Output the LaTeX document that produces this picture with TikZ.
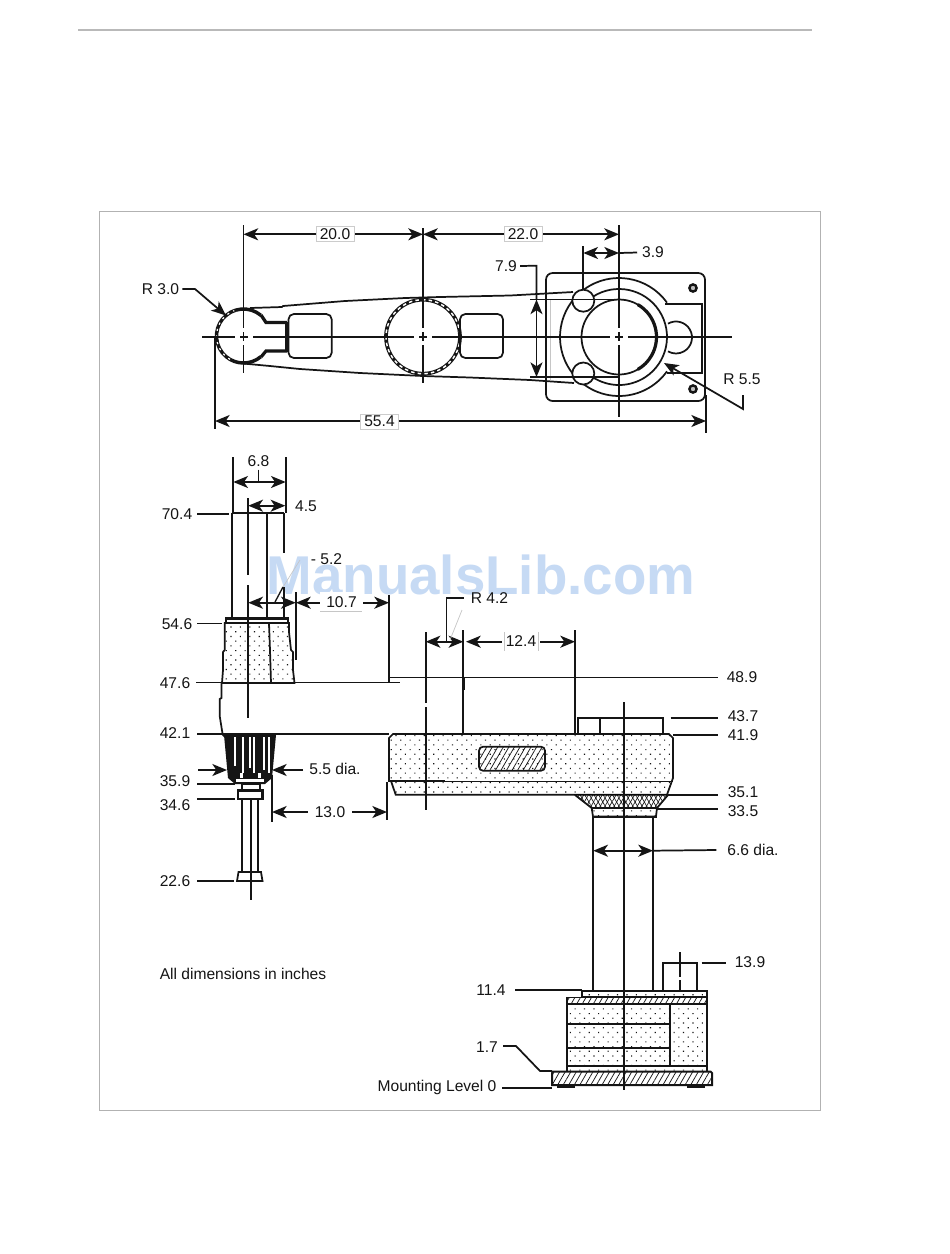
\documentclass[tikz,border=0pt]{standalone}
\usepackage{fontspec}
\setmainfont{Liberation Sans}
\usetikzlibrary{arrows.meta,patterns.meta}
\definecolor{ink}{HTML}{151515}
\definecolor{wm}{HTML}{C6DAF4}
\tikzset{
  ln/.style={draw=ink,line width=1.3pt},
  thinl/.style={draw=ink,line width=1pt},
  gr/.style={draw=gray!45,line width=.5pt},
  dimline/.style={ln,{Stealth[length=11pt,width=9pt,inset=3pt]}-{Stealth[length=11pt,width=9pt,inset=3pt]}},
  endtip/.style={ln,-{Stealth[length=11pt,width=9pt,inset=3pt]}},
  lab/.style={font=\fontsize{11.7pt}{12pt}\selectfont,text=ink,inner sep=0pt},
  boxlab/.style={lab,fill=white,draw=gray!40,line width=.4pt,inner xsep=3pt,inner ysep=1.5pt},
  whitelab/.style={lab,fill=white,inner xsep=5pt,inner ysep=3pt},
  dots/.style={pattern={Dots[distance=5pt,angle=45,radius=.6pt]},pattern color=ink},
  hatch/.style={pattern={Lines[angle=60,distance=3.6pt,line width=.55pt]},pattern color=ink},
  cross/.style={pattern={Lines[angle=60,distance=3pt,line width=.5pt]},pattern color=ink},
  cross2/.style={pattern={Lines[angle=120,distance=3pt,line width=.5pt]},pattern color=ink},
}
\begin{document}
\begin{tikzpicture}[x=0.75pt,y=-0.75pt]
\useasboundingbox (0,0) rectangle (950,1254);
\fill[white] (0,0) rectangle (950,1254);
% page furniture
\draw[draw=gray!55,line width=.8pt] (78,30) -- (812,30);
\draw[draw=gray!60,line width=.7pt] (99.5,211) rectangle (820.5,1110);
% watermark
\node[font=\bfseries\fontsize{41pt}{44pt}\selectfont,text=wm,inner sep=0pt] (wmark) at (481,575) {ManualsLib.com};

%% ===== TOP VIEW =====
\coordinate (p20a) at (243.5,234.3); \coordinate (p20b) at (423,234.3); \coordinate (p22b) at (619,234.3);
\coordinate (p55a) at (215,421); \coordinate (p55b) at (706,421);
% plate and rings
\draw[ln,rounded corners=5pt] (546,377) -- (546,273) -- (705,273) -- (705,401) -- (546,401) -- (546,377);
\draw[ln] (665,304) -- (702,304) -- (702,373) -- (667,373);
\draw[ln] (619,337) ++(-35.6:59) arc[start angle=-35.6,end angle=-324.4,radius=59];
\draw[ln] (676,337.5) ++(-120:16) arc[start angle=-120,end angle=120,radius=16];
\draw[ln] (619,337) ++(-123:48) arc[start angle=-123,end angle=123,radius=48];
\draw[ln] (619,337) circle[radius=37.5];
\draw[draw=ink,line width=2.4pt] (619,337) ++(-60:37.5) arc[start angle=-60,end angle=60,radius=37.5];
\draw[ln,fill=white] (583.3,300.7) circle[radius=11];
\draw[ln,fill=white] (583.3,373.5) circle[radius=11];
\draw[draw=ink,line width=1.8pt,fill=gray!50] (693,288) circle[radius=3.6];
\draw[draw=ink,line width=1.8pt,fill=gray!50] (693,389) circle[radius=3.6];
% arm outline
\draw[ln] (250,308) -- (282,307) -- (283,306) -- (345,301) -- (405,298) -- (440,297) -- (510,295.5) -- (573,292);
\draw[ln] (243,363.5) -- (270,366) -- (300,369) -- (360,373) -- (423,376) -- (470,377.5) -- (530,380) -- (574,383);
\draw[gr] (550,300) -- (550,380);
\draw[thinl] (530,299.3) -- (619,299.3);
\draw[thinl] (530,377) -- (619,377);
% left ball and neck
\draw[draw=ink,line width=2.6pt] (243.5,336) ++(-50:27) arc[start angle=-50,end angle=-310,radius=27];
\draw[draw=white,line width=.9pt,dash pattern=on 1.6pt off 3.4pt] (243.5,336) ++(120:27) arc[start angle=120,end angle=250,radius=27];
\draw[draw=ink,line width=2.4pt] (261,315) -- (266,322.5) -- (287,322.5);
\draw[draw=ink,line width=2.4pt] (261,357) -- (266,351) -- (287,351);
\fill[ink] (284.5,321.5) rectangle (289,352);
\draw[ln,rounded corners=4pt] (288.5,314) rectangle (331.7,358);
% middle ring
\draw[draw=ink,line width=2.8pt] (423,336.7) circle[radius=37];
\draw[draw=white,line width=1.1pt,dash pattern=on 2.6pt off 2.4pt] (423,336.7) circle[radius=37];
\draw[ln,rounded corners=4pt] (460,314) rectangle (503,358);
% centre lines
\draw[ln] (202,336.7) -- (732,336.7);
\draw[ln] (243.5,225) -- (243.5,373);
\draw[ln] (423,228) -- (423,383);
\draw[ln] (619,225) -- (619,417);
\foreach \cx in {243.5,423,619}{
  \fill[white] (\cx-9,335.5) rectangle (\cx-4,338);
  \fill[white] (\cx+4,335.5) rectangle (\cx+9,338);
  \fill[white] (\cx-1.2,328) rectangle (\cx+1.2,332);
  \fill[white] (\cx-1.2,341) rectangle (\cx+1.2,345);
}
% top dims
\draw[dimline] (p20a) -- (p20b);
\draw[dimline] (p20b) -- (p22b);
\node[boxlab] (d20) at (335,234) {20.0};
\node[boxlab] (d22) at (523,234) {22.0};
\node[lab] (d39) at (653,252.5) {3.9};
\draw[ln] (583.3,246) -- (583.3,290);
\coordinate (p39a) at (583.3,253); \coordinate (p39b) at (619,253);
\draw[dimline] (p39a) -- (p39b);
\draw[ln] (p39b) -- ([xshift=-3.5pt]d39.west);
\node[lab] (r30) at (160.5,289) {R 3.0};
\coordinate (r30t) at (226,315.5);
\draw[endtip] (r30.east) ++(3,0) -- (195,289) -- (r30t);
\node[lab] (d79) at (506,266) {7.9};
\coordinate (p79a) at (536.5,299.5); \coordinate (p79b) at (536.5,377);
\draw[ln] (d79.east) ++(3,0) -- (536.5,265.7) -- (536.5,299);
\draw[dimline] (p79a) -- (p79b);
\node[lab] (r55) at (742,379) {R 5.5};
\coordinate (r55t) at (664,363);
\draw[endtip] (743,395) -- (743,409) -- (r55t);
\draw[ln] (215,338) -- (215,429);
\draw[ln] (706,395) -- (706,433);
\draw[dimline] (p55a) -- (p55b);
\node[boxlab] (d55) at (379.5,421.5) {55.4};

%% ===== SIDE VIEW: quill =====
% column
\draw[ln] (231.7,513.3) -- (284.3,513.3);
\draw[ln] (231.7,513.3) -- (231.7,618);
\draw[ln] (267.3,513.3) -- (267.3,618);
\draw[ln] (284.3,513.3) -- (284.3,553);
\draw[ln] (284.3,587) -- (284.3,618);
% dotted upper block
\draw[ln,dots] (224.7,623) -- (224.7,650) -- (223,652) -- (223,670) -- (222,683) -- (294.5,683) -- (293,670) -- (293,652) -- (291,650) -- (289,632) -- (289,623) -- cycle;
\draw[ln] (226,618) rectangle (288,623);
\fill[ink] (226,618) rectangle (288,620);
\draw[ln] (269,623) -- (270,650) -- (271,683);
% arm side
\draw[ln] (221.5,683) -- (221.5,698) -- (219.7,699) -- (219.7,716) -- (222.5,733.5);
\draw[ln] (196,682.5) -- (400,682.5);
\draw[ln] (389,677.5) -- (718,677.5);
\draw[ln] (197,733.7) -- (389,733.7);
\draw[ln] (248.3,498) -- (248.3,575);
\draw[ln] (248.3,585) -- (248.3,718);
% knurl
\fill[ink] (224,735) -- (276,735) -- (272,778) -- (265,784) -- (235,784) -- (228,778) -- cycle;
\draw[ln] (222,733.7) -- (225,737);
\foreach \sx/\sl in {234/766,242/773,249/768,253/773,263/770,268/773}{
  \fill[white] (\sx,737) rectangle (\sx+1.8,\sl);
}
\fill[white] (240,773) rectangle (243,778);
\fill[white] (258,773) rectangle (261,778);
\fill[white] (236,779) rectangle (264,782);
\draw[ln] (235,783.5) -- (265,783.5);
% stem and rod
\draw[ln] (241.7,784) rectangle (260,790);
\draw[draw=ink,line width=1.6pt] (238,790.5) -- (262.5,790.5) -- (262.5,799) -- (238,799) -- cycle;
\draw[ln] (241.7,799) -- (241.7,872);
\draw[ln] (257.7,799) -- (257.7,872);
\draw[ln] (250.7,799) -- (250.7,900);
\draw[ln] (238.5,872) -- (261,872) -- (262.5,881) -- (237,881) -- cycle;
% extension lines
\draw[ln] (233.3,457) -- (233.3,512);
\draw[ln] (285.7,457) -- (285.7,513);
\draw[ln] (295.7,592) -- (295.7,660);
\draw[ln] (389,595) -- (389,683);
\draw[ln] (272,775) -- (272,822);
\draw[ln] (387,782) -- (387,820);
% dims
\coordinate (p68a) at (233.3,482); \coordinate (p68b) at (285.7,482);
\draw[dimline] (p68a) -- (p68b);
\node[lab] (d68) at (258.5,461) {6.8};
\draw[ln] (258.6,469.5) -- (258.6,482);
\coordinate (p45a) at (248.3,505.7); \coordinate (p45b) at (285.3,505.7);
\draw[dimline] (p45a) -- (p45b);
\node[lab] (d45) at (306,506) {4.5};
\coordinate (p52a) at (248.3,602.7); \coordinate (p52b) at (295.7,602.7);
\draw[dimline] (p52a) -- (p52b);
\node[lab] (d52) at (326.5,559) {- 5.2};
\draw[thinl] (275,602) -- (283,587);
\draw[gr] (283,587) -- (300,560);
\coordinate (p107a) at (296,602.7); \coordinate (p107b) at (389,602.7);
\draw[dimline] (p107a) -- (p107b);
\node[whitelab] (d107) at (341.5,602) {10.7};
\draw[gr] (320,611) -- (362,611);
\coordinate (p55da) at (198,770); \coordinate (p55db) at (227,770);
\draw[endtip] (p55da) -- (p55db);
\coordinate (p55dc) at (303,770); \coordinate (p55dd) at (272,770);
\draw[endtip] (p55dc) -- (p55dd);
\node[lab] (d55d) at (335,769) {5.5 dia.};
\coordinate (p130a) at (272,812); \coordinate (p130b) at (387,812);
\draw[dimline] (p130a) -- (p130b);
\node[whitelab] (d130) at (330,812) {13.0};
% left labels
\node[lab] (l704) at (177,514) {70.4};
\node[lab] (l546) at (177,624) {54.6};
\node[lab] (l476) at (175,683) {47.6};
\node[lab] (l421) at (175,733) {42.1};
\node[lab] (l359) at (175,781) {35.9};
\node[lab] (l346) at (175,805) {34.6};
\node[lab] (l226) at (175,881) {22.6};
\draw[ln] (197,514) -- (229,514);
\draw[ln] (197,623.5) -- (222,623.5);
\draw[ln] (197,784) -- (235,784);
\draw[ln] (197,799) -- (235,799);
\draw[ln] (197,881) -- (234,881);

%% ===== SIDE VIEW: main body =====
\draw[ln,dots] (393,734) -- (669,734) -- (673,738) -- (673,778) -- (667,794.7) -- (395.7,794.7) -- (391,781) -- (389,781) -- (389,738) -- cycle;
\draw[draw=ink,line width=1.6pt] (389,781) -- (445,781);
\draw[thinl] (445,781.5) -- (673,781.5);
\draw[ln,hatch,rounded corners=3pt] (479,746.7) rectangle (545,770.7);
\fill[white] (575,795.3) -- (591.7,808) -- (657,808) -- (668,795.3) -- cycle;
\draw[cross] (575,795) -- (591.7,808) -- (657,808) -- (668,795) -- cycle;
\draw[cross2] (575,795) -- (591.7,808) -- (657,808) -- (668,795) -- cycle;
\draw[ln] (575,795) -- (591.7,808) -- (657,808) -- (668,795);
\draw[ln,dots] (591.7,808) -- (593,816.5) -- (656,816.5) -- (657,808) -- cycle;
\draw[draw=ink,line width=1.7pt] (592,817) -- (657,817);
\draw[ln] (578,734) -- (578,718) -- (663,718) -- (663,734);
\draw[ln] (600,718) -- (600,734);
% column
\draw[ln] (593.3,817) -- (593.3,990.7);
\draw[ln] (653,817) -- (653,990.7);
% extension lines
\draw[ln] (425.7,632) -- (425.7,703);
\draw[ln] (425.7,707) -- (425.7,810);
\draw[ln] (463.3,630) -- (463.3,734);
\draw[draw=ink,line width=2pt] (463.3,677) -- (463.3,690);
\draw[ln] (575,630) -- (575,734);
% dims
\coordinate (p42a) at (425.7,641.7); \coordinate (p42b) at (463.3,641.7);
\draw[dimline] (p42a) -- (p42b);
\node[lab,anchor=west] (r42) at (470.5,598) {R 4.2};
\draw[ln] (r42.west) ++(-7,0) -- (446.5,598) -- (446.5,641);
\draw[gr] (462,610) -- (450,640);
\coordinate (p124a) at (466,641.7); \coordinate (p124b) at (575,641.7);
\draw[dimline] (p124a) -- (p124b);
\node[lab,fill=white,inner xsep=3pt,inner ysep=4pt] (d124) at (521,641.2) {12.4};
\draw[gr] (504,632) -- (504,651);
\draw[gr] (538,632) -- (538,651);
\coordinate (p66a) at (593.3,850.7); \coordinate (p66b) at (653,850.7);
\draw[dimline] (p66a) -- (p66b);
\node[lab] (d66) at (753,850) {6.6 dia.};
\draw[ln] (p66b) -- ([xshift=-8pt]d66.west);
% right labels
\node[lab] (l489) at (742,677) {48.9};
\node[lab] (l437) at (743,716) {43.7};
\node[lab] (l419) at (743,735) {41.9};
\node[lab] (l351) at (743,792) {35.1};
\node[lab] (l335) at (743,811) {33.5};
\node[lab] (l139) at (750,962) {13.9};
\node[lab] (l114) at (491,990) {11.4};
\node[lab] (l17) at (487,1047) {1.7};
\node[lab] (lmnt) at (437,1087) {Mounting Level 0};
\draw[ln] (670.7,718) -- (718,718);
\draw[ln] (673,735) -- (718,735);
\draw[ln] (667,794.7) -- (718,794.7);
\draw[ln] (657,809) -- (718,809);

%% ===== SIDE VIEW: base =====
\draw[ln] (662.7,991) -- (662.7,963) -- (696.7,963) -- (696.7,991);
\draw[ln] (680,952) -- (680,977);
\draw[ln] (680,980) -- (680,992);
\draw[ln] (701.7,963) -- (726,963);
\draw[ln] (515,990) -- (582,990);
\draw[ln,dots] (581.7,991) rectangle (707.3,997);
\draw[ln,hatch] (566.7,997.5) rectangle (707.3,1004);
\draw[ln,dots] (566.7,1004) rectangle (707.3,1066);
\draw[ln] (670,1004) -- (670,1066);
\draw[ln] (566.7,1024.3) -- (670,1024.3);
\draw[ln] (566.7,1047.7) -- (670,1047.7);
\draw[ln,dots] (566.7,1066) rectangle (707.3,1071.5);
\draw[draw=ink,line width=1.5pt,hatch] (553,1071.5) -- (710.5,1071.5) -- (712,1073) -- (712,1085) -- (552,1085) -- (552,1073) -- cycle;
\fill[ink] (556.7,1085) rectangle (575,1087.5);
\fill[ink] (687,1085) rectangle (705,1087.5);
\draw[ln] (503,1046) -- (516,1046) -- (540,1071) -- (552,1071);
\draw[ln] (502,1088) -- (552,1088);
\draw[ln] (624,702) -- (624,1090);
\node[lab] (note) at (243,974) {All dimensions in inches};
\end{tikzpicture}
\end{document}
